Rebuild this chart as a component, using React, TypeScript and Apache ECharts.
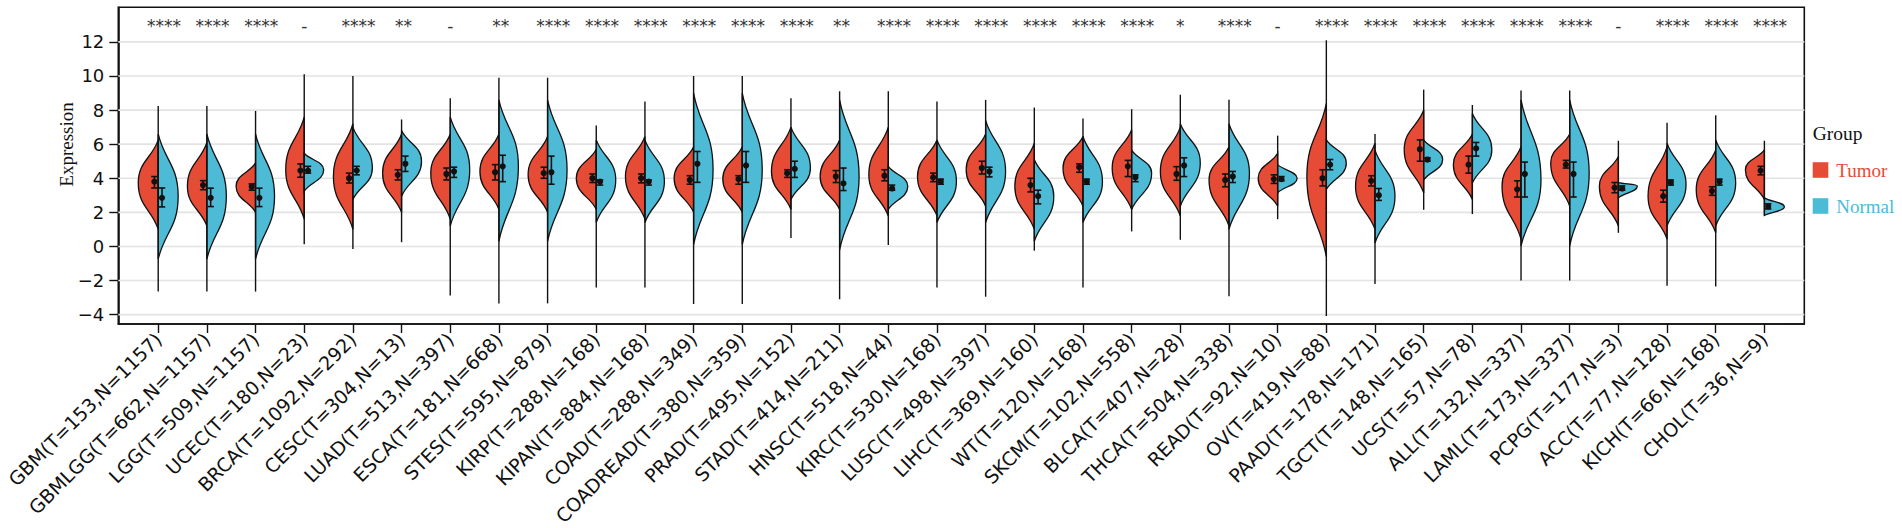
import React, { useEffect, useRef } from 'react';
import * as echarts from 'echarts';

const categories = [
  'GBM(T=153,N=1157)', 'GBMLGG(T=662,N=1157)', 'LGG(T=509,N=1157)', 'UCEC(T=180,N=23)',
  'BRCA(T=1092,N=292)', 'CESC(T=304,N=13)', 'LUAD(T=513,N=397)', 'ESCA(T=181,N=668)',
  'STES(T=595,N=879)', 'KIRP(T=288,N=168)', 'KIPAN(T=884,N=168)', 'COAD(T=288,N=349)',
  'COADREAD(T=380,N=359)', 'PRAD(T=495,N=152)', 'STAD(T=414,N=211)', 'HNSC(T=518,N=44)',
  'KIRC(T=530,N=168)', 'LUSC(T=498,N=397)', 'LIHC(T=369,N=160)', 'WT(T=120,N=168)',
  'SKCM(T=102,N=558)', 'BLCA(T=407,N=28)', 'THCA(T=504,N=338)', 'READ(T=92,N=10)',
  'OV(T=419,N=88)', 'PAAD(T=178,N=171)', 'TGCT(T=148,N=165)', 'UCS(T=57,N=78)',
  'ALL(T=132,N=337)', 'LAML(T=173,N=337)', 'PCPG(T=177,N=3)', 'ACC(T=77,N=128)',
  'KICH(T=66,N=168)', 'CHOL(T=36,N=9)',
];

const significance = [
  '****', '****', '****', '-', '****', '**', '-', '**', '****', '****', '****', '****',
  '****', '****', '**', '****', '****', '****', '****', '****', '****', '*', '****', '-',
  '****', '****', '****', '****', '****', '****', '-', '****', '****', '****',
];

// Tumor half-violin: where the body meets the centre (low / high), the value at its widest point, and that width (category units)
const tumorBodyLow = [1.0, 1.2, 2.0, 1.6, 1.0, 2.0, 1.6, 2.17, 2.0, 2.17, 1.6, 2.0, 2.0, 2.17, 2.17, 1.78, 1.8, 2.36, 1.0, 2.36, 2.17, 1.78, 1.2, 2.36, -0.6, 1.0, 3.14, 2.75, 0.42, 2.36, 1.2, 0.42, 0.8, 2.75];
const tumorPeak = [3.72, 3.53, 3.53, 4.5, 4.1, 4.3, 4.3, 4.4, 4.2, 4.0, 4.1, 4.0, 3.95, 4.4, 4.1, 4.2, 4.1, 4.5, 3.53, 4.6, 4.6, 4.4, 3.9, 4.0, 4.1, 3.53, 5.67, 4.8, 3.53, 4.9, 3.53, 2.95, 3.33, 4.5];
const tumorBodyHigh = [6.25, 6.1, 4.9, 7.6, 7.2, 6.6, 6.6, 6.6, 6.45, 5.7, 6.45, 5.85, 5.85, 7.0, 6.25, 7.0, 6.25, 6.6, 6.05, 6.45, 6.85, 7.0, 5.85, 5.47, 8.4, 6.05, 8.0, 6.6, 5.86, 6.6, 5.28, 5.86, 5.66, 5.66];
const tumorPeakWidth = [0.41, 0.40, 0.40, 0.38, 0.40, 0.39, 0.40, 0.39, 0.40, 0.41, 0.40, 0.40, 0.40, 0.40, 0.40, 0.40, 0.40, 0.40, 0.40, 0.41, 0.40, 0.41, 0.41, 0.40, 0.40, 0.40, 0.40, 0.39, 0.39, 0.39, 0.39, 0.39, 0.40, 0.39];

// Normal half-violin
const normalBodyLow = [-0.75, -0.75, -0.75, 3.24, 2.75, 2.95, 1.2, 0.3, 0.3, 1.4, 1.4, 0.1, 0.1, 2.75, -0.2, 2.17, 1.4, 1.4, 0.3, 1.4, 2.17, 2.36, 1.0, 3.15, 3.34, 0.2, 3.9, 3.72, 0.03, 0.03, 2.85, 1.2, 1.2, 1.82];
const normalPeak = [2.95, 2.95, 2.95, 4.5, 4.6, 5.0, 4.5, 4.7, 4.5, 3.9, 3.82, 4.5, 4.5, 4.6, 4.1, 3.53, 3.82, 4.4, 2.95, 3.8, 4.3, 4.9, 4.3, 4.0, 4.9, 2.95, 5.1, 5.67, 3.9, 4.3, 3.55, 3.63, 3.72, 2.32];
const normalBodyHigh = [6.6, 6.6, 6.6, 5.47, 7.0, 6.8, 7.6, 8.6, 8.6, 6.25, 6.25, 9.0, 9.0, 7.0, 8.6, 4.7, 6.25, 7.4, 5.1, 6.45, 5.65, 7.2, 7.2, 4.8, 6.25, 5.65, 6.25, 7.8, 8.6, 8.6, 3.75, 6.05, 6.25, 2.85];
const normalPeakWidth = [0.41, 0.40, 0.39, 0.40, 0.40, 0.41, 0.40, 0.40, 0.40, 0.40, 0.40, 0.40, 0.41, 0.40, 0.40, 0.40, 0.40, 0.41, 0.40, 0.40, 0.41, 0.41, 0.42, 0.40, 0.41, 0.41, 0.39, 0.40, 0.41, 0.40, 0.39, 0.39, 0.41, 0.41];

// Full range of each violin (thin tails)
const tailMin = [-2.65, -2.65, -2.65, 0.13, -0.15, 0.25, -2.88, -3.34, -3.34, -2.41, -2.41, -3.38, -3.38, 0.49, -3.1, 0.08, -2.41, -2.95, -0.25, -2.41, 0.88, 0.39, -2.92, 1.6, -4.08, -2.2, 2.15, 1.9, -2.0, -2.0, 0.8, -2.3, -2.35, 1.82];
const tailMax = [8.24, 8.24, 7.95, 10.1, 10.0, 7.45, 8.7, 9.9, 9.9, 7.1, 8.5, 10.0, 10.0, 8.7, 9.1, 9.1, 8.5, 8.6, 8.15, 7.5, 8.05, 8.9, 8.6, 6.5, 12.1, 6.6, 9.2, 8.3, 9.15, 9.15, 6.2, 7.25, 7.7, 6.2];

// Mean points with error bars
const tumorMean = [3.8, 3.6, 3.5, 4.45, 4.0, 4.2, 4.25, 4.35, 4.3, 4.0, 4.0, 3.9, 3.95, 4.3, 4.1, 4.15, 4.05, 4.6, 3.6, 4.65, 4.7, 4.25, 3.9, 3.95, 4.0, 3.85, 5.7, 4.8, 3.35, 4.8, 3.45, 2.95, 3.25, 4.45];
const tumorErrLow = [3.43, 3.33, 3.3, 4.06, 3.72, 3.9, 3.9, 3.9, 4.0, 3.75, 3.73, 3.65, 3.65, 4.05, 3.75, 3.85, 3.8, 4.25, 3.2, 4.35, 4.1, 3.88, 3.5, 3.7, 3.55, 3.55, 5.0, 4.3, 2.9, 4.6, 3.15, 2.6, 3.0, 4.2];
const tumorErrHigh = [4.1, 3.86, 3.67, 4.84, 4.3, 4.5, 4.6, 4.8, 4.65, 4.25, 4.25, 4.15, 4.15, 4.5, 4.45, 4.5, 4.3, 5.0, 4.0, 4.85, 5.05, 4.68, 4.25, 4.2, 4.5, 4.15, 6.25, 5.3, 3.85, 5.05, 3.75, 3.3, 3.5, 4.7];
const normalMean = [2.85, 2.85, 2.85, 4.45, 4.45, 4.85, 4.4, 4.7, 4.35, 3.8, 3.8, 4.85, 4.75, 4.55, 3.7, 3.4, 3.8, 4.4, 2.95, 3.8, 4.05, 4.75, 4.1, 3.95, 4.8, 3.0, 5.1, 5.75, 4.25, 4.25, 3.4, 3.75, 3.8, 2.35];
const normalErrLow = [2.32, 2.34, 2.34, 4.3, 4.2, 4.4, 4.05, 3.8, 3.65, 3.6, 3.6, 3.76, 3.76, 4.05, 3.28, 3.3, 3.65, 4.08, 2.5, 3.65, 3.8, 4.1, 3.75, 3.85, 4.5, 2.7, 5.0, 5.3, 2.9, 2.9, 3.3, 3.6, 3.6, 2.2];
const normalErrHigh = [3.43, 3.42, 3.42, 4.7, 4.7, 5.3, 4.65, 5.35, 5.3, 3.9, 3.9, 5.57, 5.57, 5.0, 4.6, 3.6, 3.95, 4.65, 3.3, 3.95, 4.2, 5.2, 4.4, 4.1, 5.1, 3.4, 5.2, 6.1, 4.95, 4.95, 3.55, 3.9, 3.95, 2.5];

const yTicks = [-4, -2, 0, 2, 4, 6, 8, 10, 12];
const labelY = 12.95;

const RED = '#E64B35';
const BLUE = '#4DBBD5';
const X_MIN = -0.82;
const X_MAX = 33.82;
const SANS = 'DejaVu Sans';
const SERIF = 'Liberation Serif';

// Bezier outline from the widest point towards an end on the centre line.
function segment(from: number[], to: number[], k: number, centreX: number) {
  const d = to[1] - from[1];
  const c1x = from[0];
  const c1y = from[1] + 0.5 * d;
  const c2x = centreX + k * (from[0] - centreX);
  const c2y = to[1] - 0.42 * d;
  return `C${c1x},${c1y} ${c2x},${c2y} ${to[0]},${to[1]} `;
}

function halfViolin(side: number, lo: number[], pk: number[], hi: number[], w: number[], color: string) {
  return (params: any, api: any) => {
    const i = params.dataIndex;
    const pLo = api.coord([i, lo[i]]);
    const pPk = api.coord([i + side * w[i], pk[i]]);
    const pHi = api.coord([i, hi[i]]);
    const cx = pLo[0];
    const k = 0.3;
    const dLo = pLo[1] - pPk[1];
    const a1x = cx + k * (pPk[0] - cx);
    const a1y = pLo[1] - 0.42 * dLo;
    const a2x = pPk[0];
    const a2y = pPk[1] + 0.5 * dLo;
    const d =
      `M${pLo[0]},${pLo[1]} ` +
      `C${a1x},${a1y} ${a2x},${a2y} ${pPk[0]},${pPk[1]} ` +
      segment(pPk, pHi, k, cx) +
      'Z';
    return {
      type: 'path',
      shape: { pathData: d },
      style: { fill: color, stroke: '#111', lineWidth: 1.3 },
    };
  };
}

function errorMark(api: any, x: number, mean: number, lo: number, hi: number) {
  const pLo = api.coord([x, lo]);
  const pHi = api.coord([x, hi]);
  const pM = api.coord([x, mean]);
  const cap = 3.2;
  const style = { stroke: '#111', lineWidth: 1.6 };
  return [
    { type: 'line', shape: { x1: pLo[0], y1: pLo[1], x2: pHi[0], y2: pHi[1] }, style },
    { type: 'line', shape: { x1: pLo[0] - cap, y1: pLo[1], x2: pLo[0] + cap, y2: pLo[1] }, style },
    { type: 'line', shape: { x1: pHi[0] - cap, y1: pHi[1], x2: pHi[0] + cap, y2: pHi[1] }, style },
    { type: 'circle', shape: { cx: pM[0], cy: pM[1], r: 3.1 }, style: { fill: '#111' } },
  ];
}

export default function App() {
  const ref = useRef<HTMLDivElement>(null);

  useEffect(() => {
    if (!ref.current) return;
    const chart = echarts.init(ref.current, undefined, { renderer: 'svg' });
    const idx = categories.map((_, i) => i);

    const option: any = {
      animation: false,
      backgroundColor: '#fff',
      grid: {
        left: 118.3,
        right: 97.7,
        top: 7.3,
        bottom: 204,
        show: true,
        borderColor: '#111',
        borderWidth: 1.6,
        containLabel: false,
        outerBoundsMode: 'none',
      },
      legend: {
        show: true,
        orient: 'vertical',
        left: 1812.7,
        top: 160.5,
        itemWidth: 15.6,
        itemHeight: 15.6,
        itemGap: 17,
        icon: 'rect',
        selectedMode: false,
        padding: 0,
        textStyle: { fontFamily: SERIF, fontSize: 19, padding: [0, 0, 0, 3] },
        data: [
          { name: 'Tumor', textStyle: { color: RED } },
          { name: 'Normal', textStyle: { color: BLUE } },
        ],
      },
      xAxis: {
        type: 'value',
        min: X_MIN,
        max: X_MAX,
        splitLine: { show: false },
        axisLine: { show: true, onZero: false, lineStyle: { color: '#111', width: 1.6 } },
        axisTick: { show: true, customValues: idx, length: 9, lineStyle: { color: '#111', width: 1.4 } },
        axisLabel: {
          show: true,
          customValues: idx,
          formatter: (v: number) => categories[Math.round(v)] ?? '',
          rotate: 45,
          fontSize: 19,
          fontFamily: SANS,
          color: '#111',
          margin: 12,
        },
      },
      yAxis: {
        type: 'value',
        min: -4.55,
        max: 14.03,
        splitLine: { show: false },
        axisLine: { show: true, onZero: false, lineStyle: { color: '#111', width: 1.6 } },
        axisTick: { show: true, customValues: yTicks, length: 9, lineStyle: { color: '#111', width: 1.4 } },
        axisLabel: {
          show: true,
          customValues: yTicks,
          formatter: (v: number) => (v < 0 ? '\u2212' + Math.abs(v) : String(v)),
          fontSize: 18,
          fontFamily: SANS,
          color: '#111',
          margin: 14,
        },
      },
      graphic: [
        {
          type: 'text',
          x: 66.7,
          y: 144.5,
          rotation: Math.PI / 2,
          style: {
            text: 'Expression',
            font: `19px "${SERIF}"`,
            fill: '#111',
            align: 'center',
            verticalAlign: 'middle',
          },
        },
        {
          type: 'text',
          x: 1812.7,
          y: 133.3,
          style: {
            text: 'Group',
            font: `19.5px "${SERIF}"`,
            fill: '#111',
            align: 'left',
            verticalAlign: 'middle',
          },
        },
      ],
      series: [
        {
          name: 'grid-lines',
          type: 'custom',
          z: 1,
          silent: true,
          data: yTicks.map((v) => [0, v]),
          encode: { x: 0, y: 1 },
          renderItem: (params: any, api: any) => {
            const v = yTicks[params.dataIndex];
            const a = api.coord([X_MIN, v]);
            const b = api.coord([X_MAX, v]);
            return {
              type: 'line',
              shape: { x1: a[0], y1: a[1], x2: b[0], y2: b[1] },
              style: { stroke: '#E3E3E3', lineWidth: 1.6 },
            };
          },
        },
        {
          name: 'Tumor',
          type: 'custom',
          z: 3,
          color: RED,
          itemStyle: { color: RED },
          data: idx.map((i) => [i, tumorPeak[i]]),
          encode: { x: 0, y: 1 },
          renderItem: halfViolin(-1, tumorBodyLow, tumorPeak, tumorBodyHigh, tumorPeakWidth, RED),
        },
        {
          name: 'Normal',
          type: 'custom',
          z: 3,
          color: BLUE,
          itemStyle: { color: BLUE },
          data: idx.map((i) => [i, normalPeak[i]]),
          encode: { x: 0, y: 1 },
          renderItem: halfViolin(1, normalBodyLow, normalPeak, normalBodyHigh, normalPeakWidth, BLUE),
        },
        {
          name: 'marks',
          type: 'custom',
          z: 4,
          data: idx.map((i) => [i, tumorMean[i]]),
          encode: { x: 0, y: 1 },
          renderItem: (params: any, api: any) => {
            const i = params.dataIndex;
            const a = api.coord([i, tailMin[i]]);
            const b = api.coord([i, tailMax[i]]);
            const children: any[] = [
              { type: 'line', shape: { x1: a[0], y1: a[1], x2: b[0], y2: b[1] }, style: { stroke: '#111', lineWidth: 1.4 } },
            ];
            children.push(...errorMark(api, i - 0.078, tumorMean[i], tumorErrLow[i], tumorErrHigh[i]));
            children.push(...errorMark(api, i + 0.078, normalMean[i], normalErrLow[i], normalErrHigh[i]));
            return { type: 'group', children };
          },
        },
        {
          name: 'significance',
          type: 'custom',
          z: 4,
          data: idx.map((i) => [i, labelY]),
          encode: { x: 0, y: 1 },
          renderItem: (params: any, api: any) => {
            const i = params.dataIndex;
            const label = significance[i];
            const p = api.coord([i, labelY]);
            const n = label === '-' ? 1 : label.length;
            return {
              type: 'text',
              x: p[0] + (n - 1) * 1.9,
              y: p[1],
              style: {
                text: label,
                font: `17px "${SANS}"`,
                fill: '#333',
                align: 'center',
                verticalAlign: 'middle',
              },
            };
          },
        },
      ],
    };

    chart.setOption(option);
    return () => chart.dispose();
  }, []);

  return (
    <div
      ref={ref}
      style={{ position: 'fixed', left: 0, top: 0, width: 1902, height: 528, background: '#fff' }}
    />
  );
}
